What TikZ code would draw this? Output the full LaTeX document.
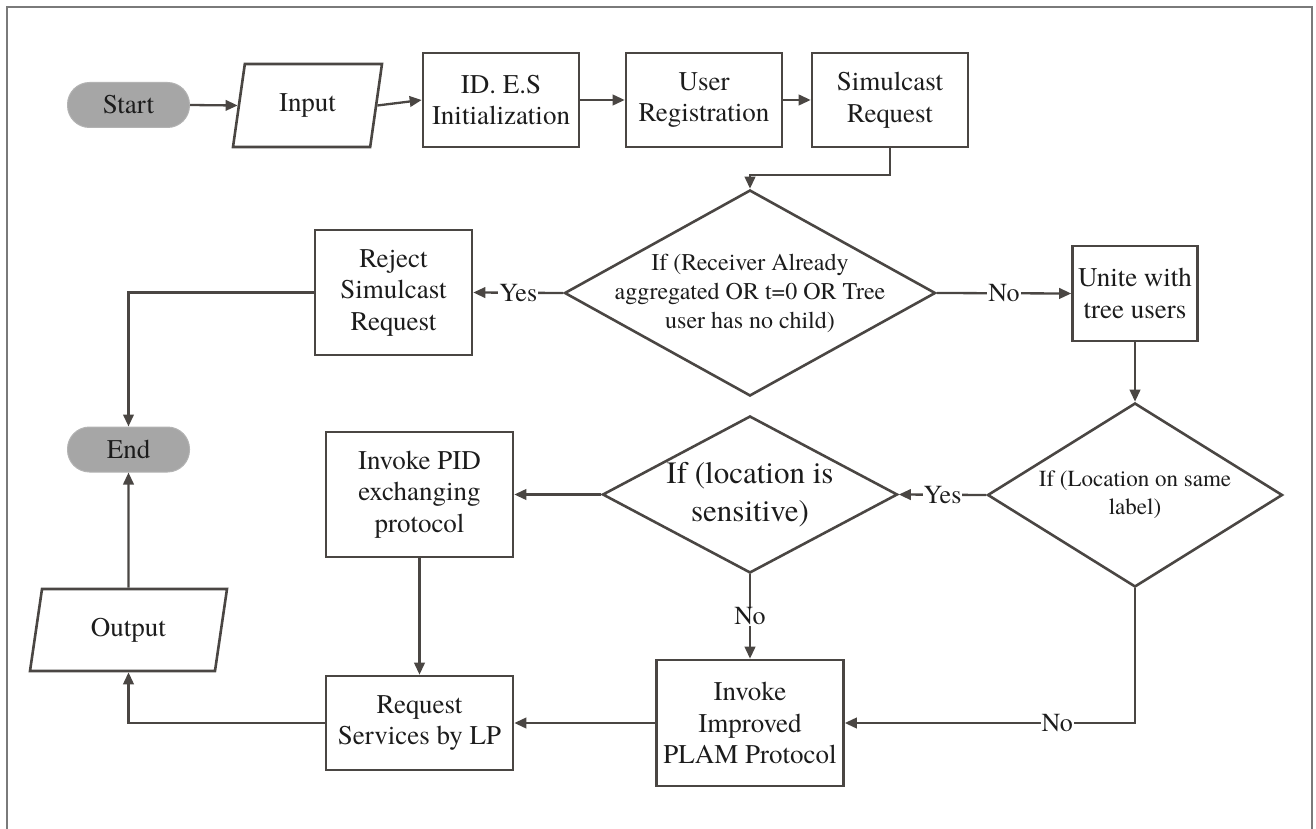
\documentclass[tikz,border=0pt]{standalone}
\usepackage{fontspec}
\IfFontExistsTF{texgyretermes-regular.otf}
  {\setmainfont{texgyretermes-regular.otf}[BoldFont=texgyretermes-bold.otf]}
  {\setmainfont{Liberation Serif}}
\usetikzlibrary{arrows.meta,shapes.geometric}
\definecolor{ink}{RGB}{74,70,67}
\definecolor{txt}{RGB}{28,28,28}
\definecolor{term}{RGB}{166,166,166}
\definecolor{edge}{RGB}{122,122,122}
\newcommand{\boxfont}{\fontsize{27}{31.5}\selectfont}
\begin{document}
\begin{tikzpicture}[x=1pt,y=-1pt,
  box/.style={draw=ink, line width=2.6pt, fill=white, inner sep=0pt,
    align=center, text=txt, font=\boxfont},
  terminal/.style={fill=term, draw=term!85, line width=1pt, rounded corners=22pt,
    minimum width=122pt, minimum height=45pt, inner sep=0pt, text=txt, font=\boxfont},
  io/.style={trapezium, trapezium left angle=63.5, trapezium right angle=116.5,
    trapezium stretches body, draw=ink, line width=2.6pt, inner sep=0pt,
    text=txt, font=\boxfont},
  decision/.style={diamond, draw=ink, line width=2.6pt, inner sep=0pt},
  flow/.style={draw=ink, line width=2.3pt, -{Triangle[length=12pt,width=10.5pt]}},
  tag/.style={fill=white, inner sep=1pt, text=txt, font=\fontsize{26}{30}\selectfont}
]
\useasboundingbox (0,0) rectangle (1316,829);

% outer frame (open at the bottom)
\draw[edge, line width=2pt] (7,829) -- (7,7) -- (1312,7) -- (1312,829);

% top row
\node[terminal] (start) at (128.5,105) {Start};
\node[io, minimum width=149pt, minimum height=83pt] (inp) at (307.5,105.5) {Input};
\node[box, minimum width=156pt, minimum height=94pt] (id) at (501,100) {ID. E.S\\Initialization};
\node[box, minimum width=156pt, minimum height=94pt] (user) at (704,100) {User\\Registration};
\node[box, minimum width=156pt, minimum height=94pt] (sim) at (890,100) {Simulcast\\Request};

% first decision
\node[decision, minimum width=371pt, minimum height=206pt,
  label={[align=center, text=txt, font=\fontsize{24}{29}\selectfont]center:{If (Receiver Already\\aggregated OR t=0 OR Tree\\user has no child)}}]
  (d1) at (750,293) {};
\node[box, minimum width=157pt, minimum height=125pt] (reject) at (393.5,292.5) {Reject\\Simulcast\\Request};
\node[box, minimum width=125pt, minimum height=95pt] (unite) at (1135,293.5) {Unite with\\tree users};

% second row of decisions
\node[decision, minimum width=295pt, minimum height=184pt,
  label={[align=center, text=txt, font=\fontsize{23}{28}\selectfont]center:{If (Location on same\\label)}}]
  (d3) at (1135,495) {};
\node[decision, minimum width=295pt, minimum height=157pt,
  label={[align=center, text=txt, font=\fontsize{31}{38}\selectfont]center:{If (location is\\sensitive)}}]
  (d2) at (750,494.5) {};

% processing and output
\node[terminal] (end) at (128.5,449.5) {End};
\node[box, minimum width=187pt, minimum height=125pt] (pid) at (419.5,494.5) {Invoke PID\\exchanging\\protocol};
\node[box, minimum width=187pt, minimum height=94pt] (req) at (419.5,723) {Request\\Services by LP};
\node[box, minimum width=187pt, minimum height=126pt] (plam) at (750,723) {Invoke\\Improved\\PLAM Protocol};
\node[io, minimum width=197pt, minimum height=82pt] (out) at (128.5,630) {Output};

% connectors
\draw[flow] (start.east) -- (inp.west);
\draw[flow] (inp.east) -- (id.west);
\draw[flow] (id) -- (user);
\draw[flow] (user) -- (sim);
\draw[flow] (sim.south) -- ++(0,27) -| (d1.north);
\draw[flow] (d1.west) -- node[tag]{Yes} (reject.east);
\draw[flow] (d1.east) -- node[tag]{No} (unite.west);
\draw[flow] (unite.south) -- (d3.north);
\draw[flow] (reject.west) -| (end.north);
\draw[flow] (d3.west) -- node[tag]{Yes} (d2.east);
\draw[flow] (d2.west) -- (pid.east);
\draw[flow] (d2.south) -- node[tag]{No} (plam.north);
\draw[flow] (d3.south) |- node[tag, pos=0.634]{No} (plam.east);
\draw[flow] (pid.south) -- (req.north);
\draw[flow] (plam.west) -- (req.east);
\draw[flow] (req.west) -| (out.south);
\draw[flow] (out.north) -- (end.south);
\end{tikzpicture}
\end{document}
